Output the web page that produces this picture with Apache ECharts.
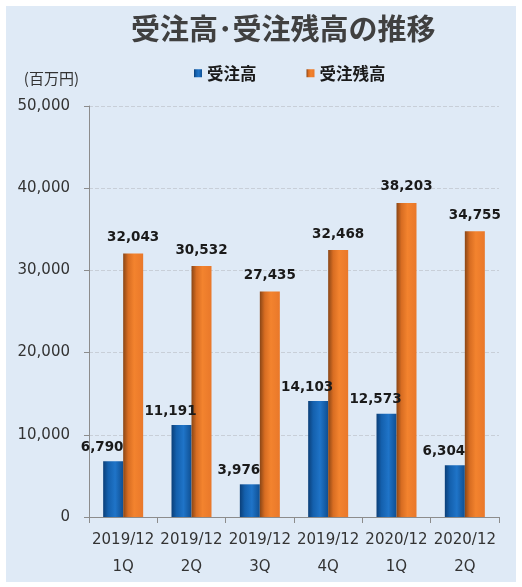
<!DOCTYPE html>
<html><head><meta charset="utf-8">
<script src="https://cdn.jsdelivr.net/npm/echarts@6/dist/echarts.min.js"></script>
<style>html,body{margin:0;padding:0;background:#fff}#c{width:522px;height:587px}</style>
</head><body><div id="c"></div>
<script>
const categories = ['2019/12\n1Q','2019/12\n2Q','2019/12\n3Q','2019/12\n4Q','2020/12\n1Q','2020/12\n2Q'];
const orders = [6790, 11191, 3976, 14103, 12573, 6304];
const backlog = [32043, 30532, 27435, 32468, 38203, 34755];
const yTicks = [0, 10000, 20000, 30000, 40000, 50000];

const F = '"Noto Sans CJK JP", "Noto Sans", sans-serif';
const chart = echarts.init(document.getElementById('c'));
const blueGrad = new echarts.graphic.LinearGradient(0,0,1,0,[
  {offset:0,color:'#0b3f78'},{offset:0.25,color:'#1460ad'},{offset:0.6,color:'#1f74c8'},{offset:1,color:'#0f4f92'}]);
const orangeGrad = new echarts.graphic.LinearGradient(0,0,1,0,[
  {offset:0,color:'#8a4616'},{offset:0.25,color:'#d86d22'},{offset:0.55,color:'#f3832e'},{offset:1,color:'#e9782a'}]);
chart.setOption({
  backgroundColor:'#ffffff',
  animation:false,
  graphic:[{type:'rect',shape:{x:6,y:6,width:510,height:576},style:{fill:'#dfeaf6'},z:-10}],
  title:{text:'受注高･受注残高の推移',left:126,top:9,
    textStyle:{fontFamily:F,fontSize:29,fontWeight:'bold',color:'#404040'}},
  legend:{top:60,left:189,itemGap:50,itemWidth:8,itemHeight:8,icon:'rect',
    textStyle:{fontFamily:F,fontSize:16.5,fontWeight:'bold',color:'#1a1a1a'},
    data:['受注高','受注残高']},
  grid:{left:89,right:23,top:106,bottom:70},
  xAxis:{type:'category',data:categories,
    axisLine:{lineStyle:{color:'#8c8c8c'}},
    axisTick:{show:true,length:6,lineStyle:{color:'#8c8c8c'}},
    axisLabel:{fontFamily:'"DejaVu Sans", sans-serif',fontSize:15,color:'#333',lineHeight:27,margin:10,interval:0}},
  yAxis:{type:'value',min:0,max:50000,interval:10000,
    name:'(百万円)',nameLocation:'end',nameGap:20,
    nameTextStyle:{fontFamily:F,fontSize:15,color:'#333',align:'right',padding:[0,10,0,0]},
    axisLine:{show:true,lineStyle:{color:'#8c8c8c'}},
    axisTick:{show:true,length:5,lineStyle:{color:'#8c8c8c'}},
    splitLine:{lineStyle:{color:'#c8cfd8',type:'dashed'}},
    axisLabel:{fontFamily:'"DejaVu Sans", sans-serif',fontSize:15,color:'#333',margin:19,
      formatter:v=>yTicks.includes(v)?v.toLocaleString('en-US'):''}},
  series:[
    {name:'受注高',type:'bar',data:orders,barWidth:20,barGap:'0%',
      itemStyle:{color:blueGrad},
      label:{show:true,position:'top',distance:7,offset:[-11,0],formatter:p=>p.value.toLocaleString('en-US'),
        fontFamily:'"DejaVu Sans", sans-serif',fontWeight:'bold',fontSize:13.5,color:'#1a1a1a'}},
    {name:'受注残高',type:'bar',data:backlog,barWidth:20,barGap:'0%',
      itemStyle:{color:orangeGrad},
      label:{show:true,position:'top',distance:9,offset:[0,0],formatter:p=>p.value.toLocaleString('en-US'),
        fontFamily:'"DejaVu Sans", sans-serif',fontWeight:'bold',fontSize:13.5,color:'#1a1a1a'}}
  ]
});
</script></body></html>
